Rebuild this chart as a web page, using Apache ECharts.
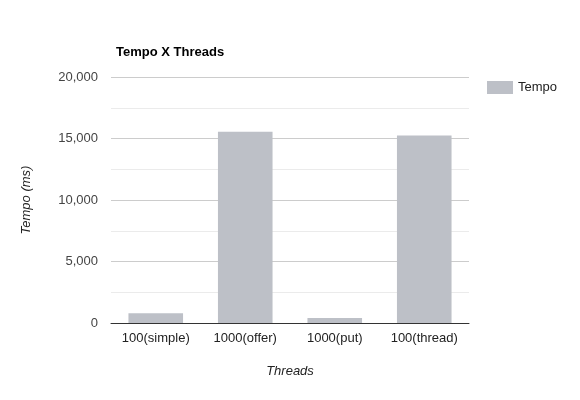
<!DOCTYPE html>
<html><head><meta charset="utf-8">
<script src="https://cdn.jsdelivr.net/npm/echarts@6/dist/echarts.min.js"></script>
<style>html,body{margin:0;padding:0;background:#fff}#c{width:580px;height:400px}</style>
</head><body><div id="c"></div>
<script>
const categories = ['100(simple)', '1000(offer)', '1000(put)', '100(thread)'];
const tempo = [800, 15550, 400, 15250];
const yTicks = [0, 5000, 10000, 15000, 20000];

const chart = echarts.init(document.getElementById('c'));
chart.setOption({
  animation: false,
  textStyle: { fontFamily: 'Liberation Sans, Arial, sans-serif' },
  title: { text: 'Tempo X Threads', left: 111, top: 41,
    textStyle: { fontSize: 13, fontWeight: 'bold', color: '#000' } },
  legend: { data: ['Tempo'], left: 482, top: 76, itemWidth: 26, itemHeight: 13,
    icon: 'rect', textStyle: { fontSize: 13, color: '#222' } },
  grid: { left: 111, right: 111, top: 77, bottom: 77 },
  xAxis: { type: 'category', data: categories,
    name: 'Threads', nameLocation: 'middle', nameGap: 42,
    nameTextStyle: { fontStyle: 'italic', fontSize: 13, color: '#222' },
    axisLine: { lineStyle: { color: '#333' } }, axisTick: { show: false },
    axisLabel: { fontSize: 13, color: '#222', margin: 9 } },
  yAxis: { type: 'value', min: yTicks[0], max: yTicks[yTicks.length - 1], interval: 5000,
    name: 'Tempo (ms)', nameLocation: 'middle', nameGap: 78,
    nameTextStyle: { fontStyle: 'italic', fontSize: 13, color: '#222' },
    axisLine: { show: false }, axisTick: { show: false },
    axisLabel: { fontSize: 13, color: '#444', margin: 13,
      formatter: v => v.toLocaleString('en-US') },
    splitLine: { lineStyle: { color: '#ccc' } },
    minorTick: { show: false, splitNumber: 2 },
    minorSplitLine: { show: true, lineStyle: { color: '#ebebeb' } } },
  series: [{ name: 'Tempo', type: 'bar', data: tempo, barWidth: '61%',
    itemStyle: { color: '#bdc0c7' } }]
});
</script></body></html>
